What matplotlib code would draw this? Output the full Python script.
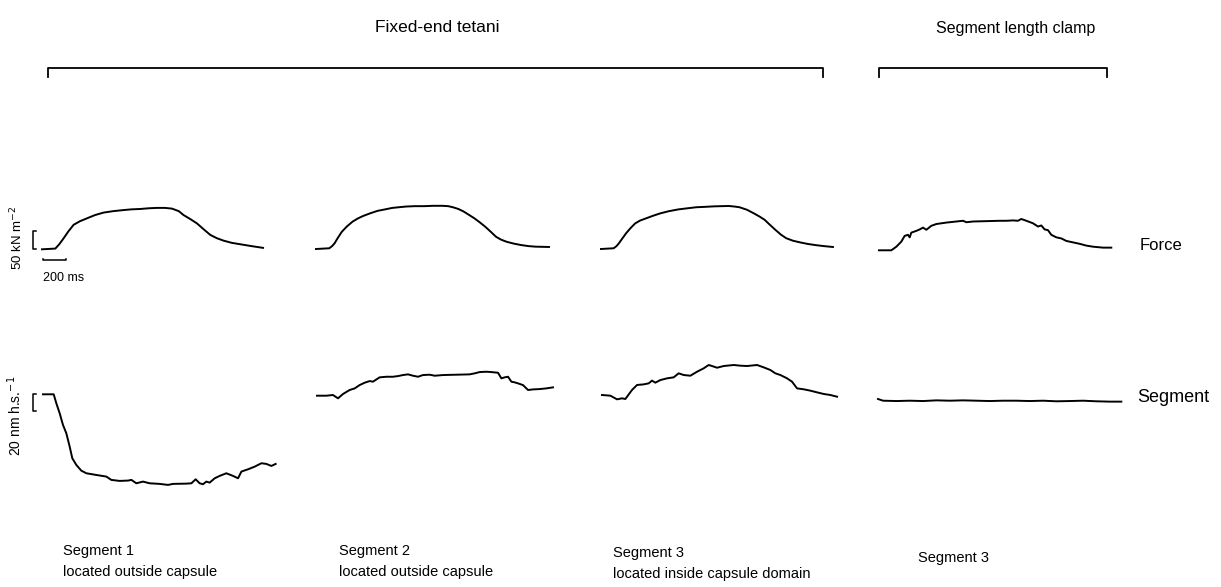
import matplotlib
matplotlib.use("Agg")
import matplotlib.pyplot as plt
import numpy as np

plt.rcParams['font.family'] = ['Liberation Sans', 'DejaVu Sans']

W, H = 1221, 587
MS_PER_PX = 8.7          # 200 ms scale bar = 23 px
KN_PER_PX = 50 / 18.0    # 50 kN m^-2 scale bar = 18 px
NM_PER_PX = 20 / 17.0    # 20 nm h.s.^-1 scale bar = 17 px

# ---- force records (time ms, force kN m^-2 above resting) ----
f1_t = [0, 116, 150, 189, 230, 275, 330, 391, 460, 536, 620, 710, 780, 855, 930, 1000,
        1070, 1131, 1190, 1232, 1290, 1348, 1405, 1464, 1520, 1580, 1650, 1725, 1820, 1923]
f1_y = [0, 2, 14, 31, 50, 68, 78, 86, 95, 102, 106, 109, 111, 112, 114, 115,
        115, 113, 106, 95, 84, 72, 56, 40, 31, 24, 18, 14, 9, 4]

f2_t = [0, 115, 140, 162, 190, 225, 270, 318, 365, 412, 470, 536, 600, 661, 720, 786, 860,
        942, 1020, 1098, 1150, 1191, 1240, 1285, 1330, 1379, 1425, 1472, 1520, 1566, 1610,
        1659, 1720, 1784, 1850, 1909, 2027]
f2_y = [0, 2, 8, 16, 31, 48, 63, 76, 85, 92, 99, 106, 110, 114, 116, 118, 119,
        119, 120, 120, 119, 116, 111, 104, 95, 85, 74, 62, 48, 34, 26,
        20, 15, 11, 8, 6.5, 5.6]

f3_t = [0, 110, 135, 156, 185, 219, 257, 297, 340, 391, 450, 516, 590, 673, 750, 829, 900,
        986, 1050, 1111, 1160, 1205, 1270, 1330, 1380, 1424, 1470, 1518, 1565, 1611, 1670,
        1737, 1800, 1862, 1940, 2018]
f3_y = [0, 2, 8, 16, 29, 44, 58, 71, 79, 85, 92, 99, 105, 110, 113, 116, 117,
        118.5, 119, 119.5, 118, 116, 109, 99, 90, 81, 67, 53, 40, 30, 23,
        18, 14, 11, 8, 5.6]

f4_t = [0, 107, 151, 194, 223, 252, 267, 281, 325, 354, 383, 412, 455, 499, 586, 673,
        731, 760, 818, 934, 1050, 1108, 1166, 1209, 1238, 1282, 1340, 1383, 1412, 1441,
        1470, 1499, 1543, 1586, 1630, 1688, 1746, 1804, 1862, 1949, 2021]
f4_y = [0, 0, 10, 24, 40, 43, 36, 49, 54, 58, 63, 57, 68, 73, 77, 80,
        82, 78, 80, 81, 82, 82, 83, 82, 87, 82, 75, 66, 69, 58,
        56, 43, 36, 33, 26, 22, 18, 13, 10, 7.4, 7.4]

# ---- segment length records (time ms, nm h.s.^-1 relative to start) ----
s1_t = [0, 93, 116, 145, 174, 203, 232, 255, 290, 333, 377, 464, 551, 594, 667, 740, 769,
        812, 870, 928, 1015, 1088, 1131, 1247, 1291, 1328, 1363, 1392, 1421, 1450, 1494,
        1537, 1595, 1653, 1697, 1726, 1784, 1842, 1900, 1943, 1987, 2024]
s1_y = [0, 0, -10.6, -22.3, -36.1, -45.9, -61.5, -75.3, -83.1, -89.8, -92.9, -94.9, -96.8,
        -100.7, -101.9, -101.5, -100.7, -104.7, -102.7, -104.7, -105.4, -106.6, -105.4,
        -105.1, -104.7, -100.0, -104.7, -105.8, -102.7, -103.9, -98.8, -96.0, -92.9, -96.0,
        -98.8, -90.9, -88.2, -85.1, -81.1, -81.9, -84.3, -81.9]

s2_t = [0, 81, 139, 183, 226, 284, 328, 371, 415, 458, 487, 545, 603, 661, 705, 748, 792,
        835, 879, 922, 980, 1024, 1096, 1212, 1328, 1372, 1415, 1473, 1517, 1575, 1604,
        1633, 1662, 1691, 1720, 1749, 1792, 1836, 1879, 1937, 1995, 2053]
s2_y = [0, 0, 0.8, -3.1, 2.0, 6.7, 8.6, 12.5, 15.3, 17.2, 16.5, 21.6, 22.3, 22.3, 23.1,
        24.3, 25.1, 23.5, 22.3, 24.3, 24.7, 23.5, 24.3, 24.7, 25.1, 26.3, 27.8, 28.2, 27.8,
        27.0, 20.4, 21.6, 22.3, 16.5, 15.7, 14.5, 12.5, 6.7, 7.4, 7.8, 8.6, 9.8]

s3_t = [0, 73, 131, 174, 203, 218, 261, 305, 363, 406, 435, 464, 508, 566, 624, 667, 711,
        769, 827, 885, 928, 957, 1001, 1059, 1146, 1204, 1262, 1349, 1407, 1465, 1508, 1552,
        1610, 1653, 1697, 1755, 1813, 1871, 1929, 1987, 2045]
s3_y = [0, -0.8, -5.1, -3.9, -4.7, -2.0, 5.9, 11.8, 12.5, 13.7, 16.9, 14.5, 17.6, 19.6,
        20.8, 25.5, 23.5, 22.7, 27.4, 31.4, 35.3, 34.1, 32.1, 34.1, 35.3, 34.5, 34.1, 35.3,
        32.5, 29.4, 25.5, 23.5, 19.6, 15.7, 7.8, 6.7, 5.1, 3.1, 1.2, 0, -2.0]

s4_t = [0, 44, 160, 276, 392, 508, 624, 740, 856, 972, 1088, 1204, 1320, 1436, 1552, 1668,
        1784, 1900, 2016, 2117]
s4_y = [0, -2.0, -2.4, -2.0, -2.4, -1.6, -2.0, -1.6, -2.0, -2.4, -2.0, -2.0, -2.4, -2.0,
        -2.7, -2.4, -2.0, -2.7, -3.1, -3.1]

force_records = [(f1_t, f1_y), (f2_t, f2_y), (f3_t, f3_y), (f4_t, f4_y)]
segment_records = [(s1_t, s1_y), (s2_t, s2_y), (s3_t, s3_y), (s4_t, s4_y)]

# trace origins in figure pixels (x start, baseline y)
force_origin = [(42, 249.3), (316, 249), (601, 249), (879, 250.3)]
segment_origin = [(43, 394.3), (317, 395.7), (602, 395), (878, 399)]

captions = [("Segment 1", "located outside capsule"),
            ("Segment 2", "located outside capsule"),
            ("Segment 3", "located inside capsule domain"),
            ("Segment 3", "")]

fig = plt.figure(figsize=(W / 100, H / 100), dpi=100)
fig.patch.set_facecolor("white")

# overlay in pixel coordinates for text and brackets
ov = fig.add_axes([0, 0, 1, 1])
ov.set_xlim(0, W)
ov.set_ylim(H, 0)
ov.axis("off")


def trace_axes(x0, y0, unit_per_px, w=300, up=140, down=140):
    # axes whose data origin sits at pixel (x0, y0) with fixed physical scales
    a = fig.add_axes([(x0 - 20) / W, (H - (y0 + down)) / H, (w + 20) / W, (up + down) / H])
    a.set_xlim(-20 * MS_PER_PX, w * MS_PER_PX)
    a.set_ylim(-down * unit_per_px, up * unit_per_px)
    a.axis("off")
    return a


LW = 1.4
force_axes = []
for (t, y), (x0, y0) in zip(force_records, force_origin):
    a = trace_axes(x0, y0, KN_PER_PX)
    a.plot(t, y, color="black", lw=LW, solid_joinstyle="round")
    force_axes.append(a)

seg_axes = []
for (t, y), (x0, y0) in zip(segment_records, segment_origin):
    a = trace_axes(x0, y0, NM_PER_PX)
    a.plot(t, y, color="black", lw=LW, solid_joinstyle="round")
    seg_axes.append(a)

# scale bars on the first panel
fa = force_axes[0]
bx = -80
fa.plot([bx + 25, bx, bx, bx + 25], [0, 0, 50, 50], color="black", lw=1.1)
fa.plot([10, 10, 210, 210], [-26, -30, -30, -26], color="black", lw=1.1)
fa.text(10, -80, "200 ms", fontsize=9, ha="left", va="center")

sa = seg_axes[0]
bx = -90
sa.plot([bx + 25, bx, bx, bx + 25], [0, 0, -20, -20], color="black", lw=1.1)

ov.text(17, 238, "50 kN m$^{-2}$", rotation=90, fontsize=9.5, ha="center", va="center")
ov.text(15, 416, "20 nm h.s.$^{-1}$", rotation=90, fontsize=10, ha="center", va="center")

# group brackets and titles
groups = [((48, 823), 437, "Fixed-end tetani", 12.5),
          ((879, 1107), 1016, "Segment length clamp", 11.5)]
for (xa, xb), tx, title, fs in groups:
    ov.plot([xa, xa, xb, xb], [77, 68, 68, 77], color="black", lw=1.3)
    ov.text(tx, 28, title, fontsize=fs, ha="center", va="center")

ov.text(1140, 245, "Force", fontsize=12, ha="left", va="center")
ov.text(1137, 398, "Segment", fontsize=13, ha="left", va="center")

cap_x = [63, 339, 613, 918]
cap_y = [551, 551, 553, 558]
for (l1, l2), cx, cy in zip(captions, cap_x, cap_y):
    ov.text(cx, cy, l1, fontsize=10.5, ha="left", va="center")
    if l2:
        ov.text(cx, cy + 21, l2, fontsize=10.5, ha="left", va="center")

fig.savefig("out.png", dpi=100, facecolor="white")
